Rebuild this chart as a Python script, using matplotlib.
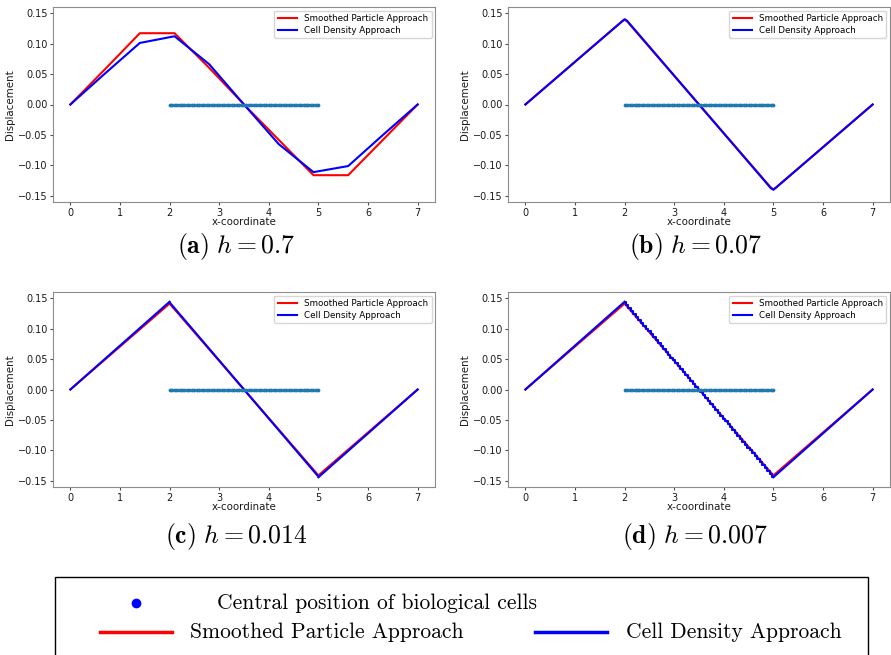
import matplotlib
matplotlib.use("Agg")
import matplotlib.pyplot as plt
from matplotlib.lines import Line2D
from matplotlib.patches import Rectangle

plt.rcParams["mathtext.fontset"] = "cm"

# central positions of the biological cells (x), all at zero displacement
cell_x = [2.00, 2.05, 2.10, 2.15, 2.20, 2.25, 2.30, 2.35, 2.40, 2.45,
          2.50, 2.55, 2.60, 2.65, 2.70, 2.75, 2.80, 2.85, 2.90, 2.95,
          3.00, 3.05, 3.10, 3.15, 3.20, 3.25, 3.30, 3.35, 3.40, 3.45,
          3.50, 3.55, 3.60, 3.65, 3.70, 3.75, 3.80, 3.85, 3.90, 3.95,
          4.00, 4.05, 4.10, 4.15, 4.20, 4.25, 4.30, 4.35, 4.40, 4.45,
          4.50, 4.55, 4.60, 4.65, 4.70, 4.75, 4.80, 4.85, 4.90, 4.95,
          5.00]
cell_y = [0.0] * len(cell_x)

# displacement read at the cell positions (panels c, d)
cell_disp = [0.1430, 0.1382, 0.1335, 0.1287, 0.1239, 0.1192, 0.1144, 0.1096,
             0.1049, 0.1001, 0.0953, 0.0906, 0.0858, 0.0810, 0.0763, 0.0715,
             0.0667, 0.0620, 0.0572, 0.0524, 0.0477, 0.0429, 0.0381, 0.0334,
             0.0286, 0.0238, 0.0191, 0.0143, 0.0095, 0.0048, 0.0000,
             -0.0048, -0.0095, -0.0143, -0.0191, -0.0238, -0.0286, -0.0334,
             -0.0381, -0.0429, -0.0477, -0.0524, -0.0572, -0.0620, -0.0667,
             -0.0715, -0.0763, -0.0810, -0.0858, -0.0906, -0.0953, -0.1001,
             -0.1049, -0.1096, -0.1144, -0.1192, -0.1239, -0.1287, -0.1335,
             -0.1382, -0.1430]

# panel (a), h = 0.7
x_a = [0.0, 0.7, 1.4, 2.1, 2.8, 3.5, 4.2, 4.9, 5.6, 6.3, 7.0]
sph_a = [0.0, 0.058, 0.117, 0.117, 0.060, 0.0, -0.058, -0.116, -0.116, -0.058, 0.0]
cd_a = [0.0, 0.051, 0.101, 0.112, 0.066, 0.0, -0.065, -0.111, -0.101, -0.050, 0.0]

# panel (b), h = 0.07
x_b = [0.0, 1.95, 2.0, 2.05, 4.95, 5.0, 5.05, 7.0]
sph_b = [0.0, 0.1365, 0.139, 0.1365, -0.1365, -0.139, -0.1365, 0.0]
cd_b = [0.0, 0.1365, 0.140, 0.1375, -0.1375, -0.140, -0.1365, 0.0]

# panels (c), (d): outer ramps
x_ramp_l = [0.0, 2.0]
x_ramp_r = [5.0, 7.0]
cd_ramp_l = [0.0, 0.144]
cd_ramp_r = [-0.144, 0.0]
x_sph = [0.0, 2.0, 5.0, 7.0]
sph_cd = [0.0, 0.141, -0.141, 0.0]

captions = [r"$\mathbf{(a)}\ h = 0.7$", r"$\mathbf{(b)}\ h = 0.07$",
            r"$\mathbf{(c)}\ h = 0.014$", r"$\mathbf{(d)}\ h = 0.007$"]

W, H = 891, 655
fig = plt.figure(figsize=(W / 100, H / 100), dpi=100)

boxes = [(53, 7), (508, 7), (53, 292), (508, 292)]
aw, ah = 382, 195
axes = []
for (l, t) in boxes:
    ax = fig.add_axes([l / W, 1 - (t + ah) / H, aw / W, ah / H])
    axes.append(ax)

RED = "#ff0000"
BLUE = "#0000ff"


def style(ax):
    ax.set_xlim(-0.35, 7.35)
    ax.set_ylim(-0.16, 0.16)
    ax.set_xticks(range(8))
    ax.set_yticks([-0.15, -0.10, -0.05, 0.0, 0.05, 0.10, 0.15])
    ax.tick_params(labelsize=7.0, length=2.5, pad=1.5, color="0.3",
                   labelcolor="0.1")
    for s in ax.spines.values():
        s.set_color("0.55")
    ax.set_xlabel("x-coordinate", fontsize=7.4, color="0.1")
    ax.set_ylabel("Displacement", fontsize=7.4, color="0.1")
    ax.xaxis.set_label_coords(0.5, -0.105)
    ax.xaxis.label.set_va("center")
    ax.yaxis.set_label_coords(-0.113, 0.5)
    ax.yaxis.label.set_va("center")
    ax.legend(loc="upper right", fontsize=6.3, handlelength=2.2,
              borderaxespad=0.4, labelspacing=0.3)


ax = axes[0]
ax.plot(x_a, sph_a, color=RED, lw=1.5, label="Smoothed Particle Approach")
ax.plot(x_a, cd_a, color=BLUE, lw=1.5, label="Cell Density Approach")
ax.scatter(cell_x, cell_y, s=3, color="C0", zorder=3)
style(ax)

ax = axes[1]
ax.plot(x_b, sph_b, color=RED, lw=1.5, label="Smoothed Particle Approach")
ax.plot(x_b, cd_b, color=BLUE, lw=1.5, label="Cell Density Approach")
ax.scatter(cell_x, cell_y, s=3, color="C0", zorder=3)
style(ax)

for ax, steps in [(axes[2], "default"), (axes[3], "steps-mid")]:
    ax.plot(x_sph, sph_cd, color=RED, lw=1.5, label="Smoothed Particle Approach")
    ax.plot(x_ramp_l, cd_ramp_l, color=BLUE, lw=1.5, label="Cell Density Approach")
    ax.plot(cell_x, cell_disp, color=BLUE, lw=1.5, drawstyle=steps)
    ax.plot(x_ramp_r, cd_ramp_r, color=BLUE, lw=1.5)
    ax.scatter(cell_x, cell_y, s=3, color="C0", zorder=3)
    style(ax)

cap_pos = [(236, 247), (695, 247), (236, 537), (695, 537)]
for (cx, cy), cap in zip(cap_pos, captions):
    fig.text(cx / W, 1 - cy / H, cap, fontsize=18.5, ha="center", va="center")

# bottom legend box
fig.patches.append(Rectangle((55 / W, -0.05), (868 - 55) / W, 0.05 + 1 - 577 / H,
                             transform=fig.transFigure, fill=False,
                             edgecolor="black", lw=1.0))
fig.lines.append(Line2D([136 / W], [1 - 603 / H], transform=fig.transFigure,
                        marker="o", markersize=6, color=BLUE, ls="none"))
fig.text(217 / W, 1 - 603 / H, "Central position of biological cells",
         family="cmr10", fontsize=15.5, va="center")
fig.lines.append(Line2D([100 / W, 172 / W], [1 - 632 / H] * 2,
                        transform=fig.transFigure, color=RED, lw=2.5))
fig.text(190 / W, 1 - 632 / H, "Smoothed Particle Approach",
         family="cmr10", fontsize=15.5, va="center")
fig.lines.append(Line2D([535 / W, 607 / W], [1 - 632 / H] * 2,
                        transform=fig.transFigure, color=BLUE, lw=2.5))
fig.text(626 / W, 1 - 632 / H, "Cell Density Approach",
         family="cmr10", fontsize=15.5, va="center")

fig.savefig("out.png", dpi=100)
